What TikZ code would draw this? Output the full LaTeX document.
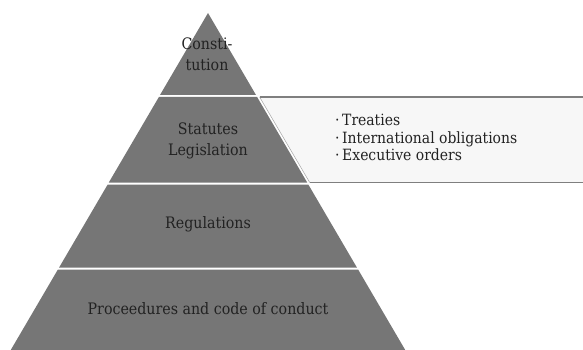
\documentclass[tikz,border=0pt]{standalone}
\usepackage{fontspec}
\setmainfont{DejaVu Serif Condensed}
\definecolor{pyr}{HTML}{767676}
\definecolor{boxfill}{HTML}{F7F7F7}
\definecolor{boxline}{HTML}{7F7F7F}
\definecolor{txt}{HTML}{222222}
\tikzset{
  band/.style={fill=pyr, draw=none},
  lbl/.style={text=txt, font=\fontsize{15.8}{21}\selectfont, align=center, inner sep=0pt},
  lst/.style={text=txt, font=\fontsize{15.5}{17.5}\selectfont, align=left, inner sep=0pt, anchor=west},
}
\begin{document}
\begin{tikzpicture}[x=1pt,y=-1pt]
\useasboundingbox (0,0) rectangle (583,350);
\begin{scope}
\clip (0,0) rectangle (583,350);
% pyramid bands
\fill[band] (208,13) -- (256,95) -- (160,95) -- cycle;
\fill[band] (158.9,97) -- (257.1,97) -- (307.2,182.5) -- (108.8,182.5) -- cycle;
\fill[band] (107.7,184.5) -- (308.3,184.5) -- (356.9,267.5) -- (59.1,267.5) -- cycle;
\fill[band] (57.9,269.5) -- (358.1,269.5) -- (407,353) -- (9,353) -- cycle;
% side box
\fill[boxfill] (259.6,97) -- (583,97) -- (583,182.5) -- (309.7,182.5) -- cycle;
\draw[boxline!70, line width=0.5pt] (259.6,97) -- (309.7,182.5);
\draw[boxline, line width=1.6pt] (259.6,97) -- (583,97);
\draw[boxline, line width=1.6pt] (309.7,182.5) -- (583,182.5);
\end{scope}
% labels
\node[lbl] (c) at (207,54) {Consti-\\tution};
\node[lbl] (s) at (208,141) {Statutes\\Legislation};
\node[lbl] (r) at (208,224) {Regulations};
\node[lbl] (p) at (208,309) {Proceedures and code of conduct};
\node[lst] (l) at (335,137.5) {·\,Treaties\\·\,International obligations\\·\,Executive orders};
\end{tikzpicture}
\end{document}
